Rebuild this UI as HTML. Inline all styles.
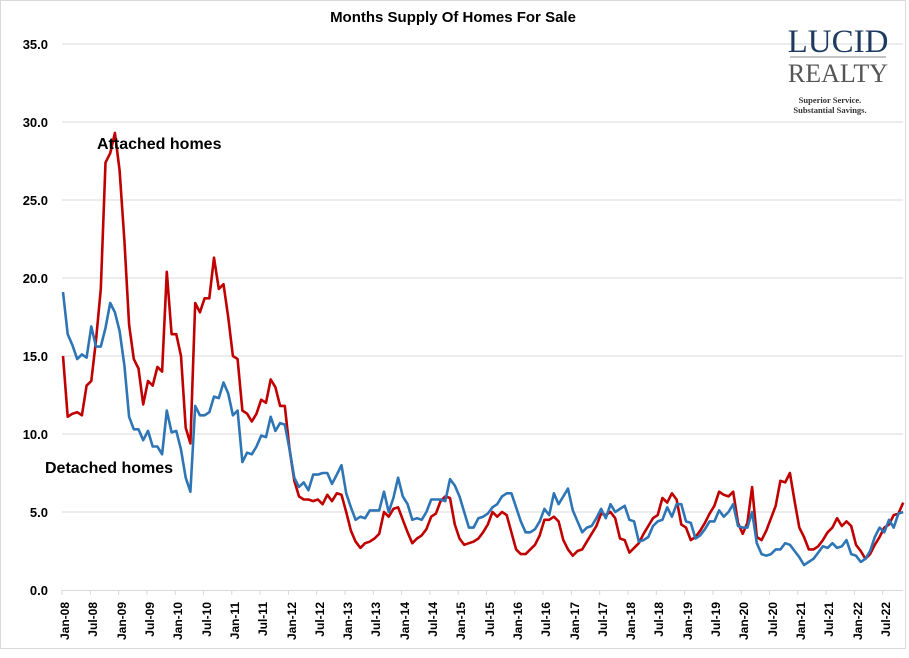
<!DOCTYPE html>
<html><head><meta charset="utf-8"><style>
body{margin:0;background:#fff;}
svg text{font-family:"Liberation Sans",sans-serif;}
</style></head><body>
<svg id="c" width="909" height="653" viewBox="0 0 909 653" xmlns="http://www.w3.org/2000/svg">
<rect x="0.5" y="0.5" width="905" height="648" fill="#fff" stroke="#d9d9d9"/>
<text x="453" y="22" text-anchor="middle" font-size="15" font-weight="bold">Months Supply Of Homes For Sale</text>
<g id="grid" stroke="#d9d9d9" stroke-width="1"></g>
<g font-size="13" font-weight="bold" text-anchor="end" fill="#000">
<text x="48" y="595">0.0</text><text x="48" y="517">5.0</text><text x="48" y="439">10.0</text>
<text x="48" y="361">15.0</text><text x="48" y="283">20.0</text><text x="48" y="205">25.0</text>
<text x="48" y="127">30.0</text><text x="48" y="49">35.0</text>
</g>
<polyline id="red" fill="none" stroke="#c00000" stroke-width="2.6" stroke-linejoin="round"/>
<polyline id="blue" fill="none" stroke="#2e75b6" stroke-width="2.6" stroke-linejoin="round"/>
<text x="97" y="149" font-size="16" font-weight="bold">Attached homes</text>
<text x="45" y="473" font-size="16" font-weight="bold">Detached homes</text>
<text x="838" y="52" text-anchor="middle" font-size="33" fill="#1f3a5f" style="font-family:'Liberation Serif',serif">LUCID</text>
<line x1="790" y1="57" x2="886" y2="57" stroke="#888" stroke-width="1"/>
<text x="838" y="82" text-anchor="middle" font-size="26" fill="#555" style="font-family:'Liberation Serif',serif">REALTY</text>
<text x="830" y="103" text-anchor="middle" font-size="8.5" font-weight="bold" fill="#333" style="font-family:'Liberation Serif',serif">Superior Service.</text>
<text x="830" y="113" text-anchor="middle" font-size="8.5" font-weight="bold" fill="#333" style="font-family:'Liberation Serif',serif">Substantial Savings.</text>
</svg>
<script>
var red=[15.0,11.1,11.3,11.4,11.2,13.1,13.4,16,19.3,27.4,28.0,29.3,26.9,22.4,17.0,14.8,14.2,11.9,13.4,13.1,14.3,14.0,20.4,16.4,16.4,15.0,10.4,9.4,18.4,17.8,18.7,18.7,21.3,19.3,19.6,17.5,15.0,14.8,11.5,11.3,10.8,11.3,12.2,12.0,13.5,13.0,11.8,11.8,9.0,7.0,6.0,5.8,5.8,5.7,5.8,5.5,6.1,5.7,6.2,6.1,5.0,3.8,3.1,2.7,3.0,3.1,3.3,3.6,5.0,4.7,5.2,5.3,4.5,3.7,3.0,3.3,3.5,3.9,4.7,4.9,5.7,6.0,5.9,4.2,3.3,2.9,3.0,3.1,3.3,3.7,4.2,5.0,4.7,5.0,4.8,3.7,2.6,2.3,2.3,2.6,2.9,3.5,4.5,4.5,4.7,4.4,3.2,2.6,2.2,2.5,2.6,3.1,3.6,4.1,4.9,4.8,5.0,4.6,3.3,3.2,2.4,2.7,3.0,3.6,4.1,4.6,4.8,5.9,5.6,6.2,5.8,4.2,4.0,3.2,3.4,3.8,4.3,4.9,5.4,6.3,6.1,6.0,6.3,4.3,3.6,4.3,6.6,3.4,3.2,3.8,4.6,5.4,7.0,6.9,7.5,5.7,4.0,3.4,2.6,2.6,2.8,3.2,3.7,4.0,4.6,4.1,4.4,4.1,2.9,2.5,2.0,2.3,2.9,3.4,4.0,4.2,4.8,4.9,5.6];
var blue=[19.1,16.4,15.7,14.8,15.1,14.9,16.9,15.6,15.6,16.8,18.4,17.8,16.6,14.4,11.1,10.3,10.3,9.6,10.2,9.2,9.2,8.7,11.5,10.1,10.2,9.0,7.2,6.3,11.8,11.2,11.2,11.4,12.4,12.3,13.3,12.6,11.2,11.5,8.2,8.8,8.7,9.2,9.9,9.8,11.1,10.2,10.7,10.6,9.0,7.2,6.6,6.9,6.4,7.4,7.4,7.5,7.5,6.8,7.4,8.0,6.2,5.3,4.5,4.7,4.6,5.1,5.1,5.1,6.3,5.0,5.9,7.2,6.0,5.5,4.5,4.6,4.5,5.0,5.8,5.8,5.8,5.7,7.1,6.7,6.0,5.0,4.0,4.0,4.6,4.7,4.9,5.3,5.5,6.0,6.2,6.2,5.3,4.4,3.7,3.7,3.9,4.4,5.2,4.8,6.2,5.5,6.0,6.5,5.1,4.4,3.7,4.0,4.1,4.6,5.2,4.6,5.5,5.0,5.2,5.4,4.5,4.4,3.1,3.2,3.4,4.1,4.4,4.5,5.3,4.7,5.5,5.5,4.4,4.3,3.3,3.5,3.9,4.4,4.4,5.1,4.7,5.0,5.5,4.1,4.0,4.0,5.0,3.0,2.3,2.2,2.3,2.6,2.6,3.0,2.9,2.5,2.1,1.6,1.8,2.0,2.4,2.8,2.7,3.0,2.7,2.8,3.2,2.3,2.2,1.8,2.0,2.5,3.4,4.0,3.7,4.5,4.0,4.9,5.0];
function pts(a){return a.map(function(v,i){return (63+i*4.72).toFixed(1)+','+(590-15.6*v).toFixed(1)}).join(' ');}
document.getElementById('red').setAttribute('points',pts(red));
document.getElementById('blue').setAttribute('points',pts(blue));
var g=document.getElementById('grid'),ns='http://www.w3.org/2000/svg';
for(var k=1;k<=7;k++){var y=590-78*k;var l=document.createElementNS(ns,'line');l.setAttribute('x1',62);l.setAttribute('x2',903);l.setAttribute('y1',y);l.setAttribute('y2',y);g.appendChild(l);}
var b=document.createElementNS(ns,'line');b.setAttribute('x1',62);b.setAttribute('x2',903);b.setAttribute('y1',590.5);b.setAttribute('y2',590.5);g.appendChild(b);
for(var k=0;k<30;k++){var x=62+28.3*k;var t=document.createElementNS(ns,'line');t.setAttribute('x1',x);t.setAttribute('x2',x);t.setAttribute('y1',590);t.setAttribute('y2',595);g.appendChild(t);}
</script>
<div style="position:absolute;left:0;top:0;width:909px;height:653px;pointer-events:none">
<div style="position:absolute;left:0;top:6px;font:bold 12px 'Liberation Sans',sans-serif;">
<span style="position:absolute;left:40px;top:614px;transform:rotate(-90deg);width:50px;text-align:right;">Jan-08</span>
<span style="position:absolute;left:68px;top:614px;transform:rotate(-90deg);width:50px;text-align:right;">Jul-08</span>
<span style="position:absolute;left:97px;top:614px;transform:rotate(-90deg);width:50px;text-align:right;">Jan-09</span>
<span style="position:absolute;left:125px;top:614px;transform:rotate(-90deg);width:50px;text-align:right;">Jul-09</span>
<span style="position:absolute;left:153px;top:614px;transform:rotate(-90deg);width:50px;text-align:right;">Jan-10</span>
<span style="position:absolute;left:182px;top:614px;transform:rotate(-90deg);width:50px;text-align:right;">Jul-10</span>
<span style="position:absolute;left:210px;top:614px;transform:rotate(-90deg);width:50px;text-align:right;">Jan-11</span>
<span style="position:absolute;left:238px;top:614px;transform:rotate(-90deg);width:50px;text-align:right;">Jul-11</span>
<span style="position:absolute;left:267px;top:614px;transform:rotate(-90deg);width:50px;text-align:right;">Jan-12</span>
<span style="position:absolute;left:295px;top:614px;transform:rotate(-90deg);width:50px;text-align:right;">Jul-12</span>
<span style="position:absolute;left:323px;top:614px;transform:rotate(-90deg);width:50px;text-align:right;">Jan-13</span>
<span style="position:absolute;left:351px;top:614px;transform:rotate(-90deg);width:50px;text-align:right;">Jul-13</span>
<span style="position:absolute;left:380px;top:614px;transform:rotate(-90deg);width:50px;text-align:right;">Jan-14</span>
<span style="position:absolute;left:408px;top:614px;transform:rotate(-90deg);width:50px;text-align:right;">Jul-14</span>
<span style="position:absolute;left:436px;top:614px;transform:rotate(-90deg);width:50px;text-align:right;">Jan-15</span>
<span style="position:absolute;left:465px;top:614px;transform:rotate(-90deg);width:50px;text-align:right;">Jul-15</span>
<span style="position:absolute;left:493px;top:614px;transform:rotate(-90deg);width:50px;text-align:right;">Jan-16</span>
<span style="position:absolute;left:521px;top:614px;transform:rotate(-90deg);width:50px;text-align:right;">Jul-16</span>
<span style="position:absolute;left:550px;top:614px;transform:rotate(-90deg);width:50px;text-align:right;">Jan-17</span>
<span style="position:absolute;left:578px;top:614px;transform:rotate(-90deg);width:50px;text-align:right;">Jul-17</span>
<span style="position:absolute;left:606px;top:614px;transform:rotate(-90deg);width:50px;text-align:right;">Jan-18</span>
<span style="position:absolute;left:634px;top:614px;transform:rotate(-90deg);width:50px;text-align:right;">Jul-18</span>
<span style="position:absolute;left:663px;top:614px;transform:rotate(-90deg);width:50px;text-align:right;">Jan-19</span>
<span style="position:absolute;left:691px;top:614px;transform:rotate(-90deg);width:50px;text-align:right;">Jul-19</span>
<span style="position:absolute;left:719px;top:614px;transform:rotate(-90deg);width:50px;text-align:right;">Jan-20</span>
<span style="position:absolute;left:748px;top:614px;transform:rotate(-90deg);width:50px;text-align:right;">Jul-20</span>
<span style="position:absolute;left:776px;top:614px;transform:rotate(-90deg);width:50px;text-align:right;">Jan-21</span>
<span style="position:absolute;left:804px;top:614px;transform:rotate(-90deg);width:50px;text-align:right;">Jul-21</span>
<span style="position:absolute;left:833px;top:614px;transform:rotate(-90deg);width:50px;text-align:right;">Jan-22</span>
<span style="position:absolute;left:861px;top:614px;transform:rotate(-90deg);width:50px;text-align:right;">Jul-22</span>
</div></div>
</body></html>
